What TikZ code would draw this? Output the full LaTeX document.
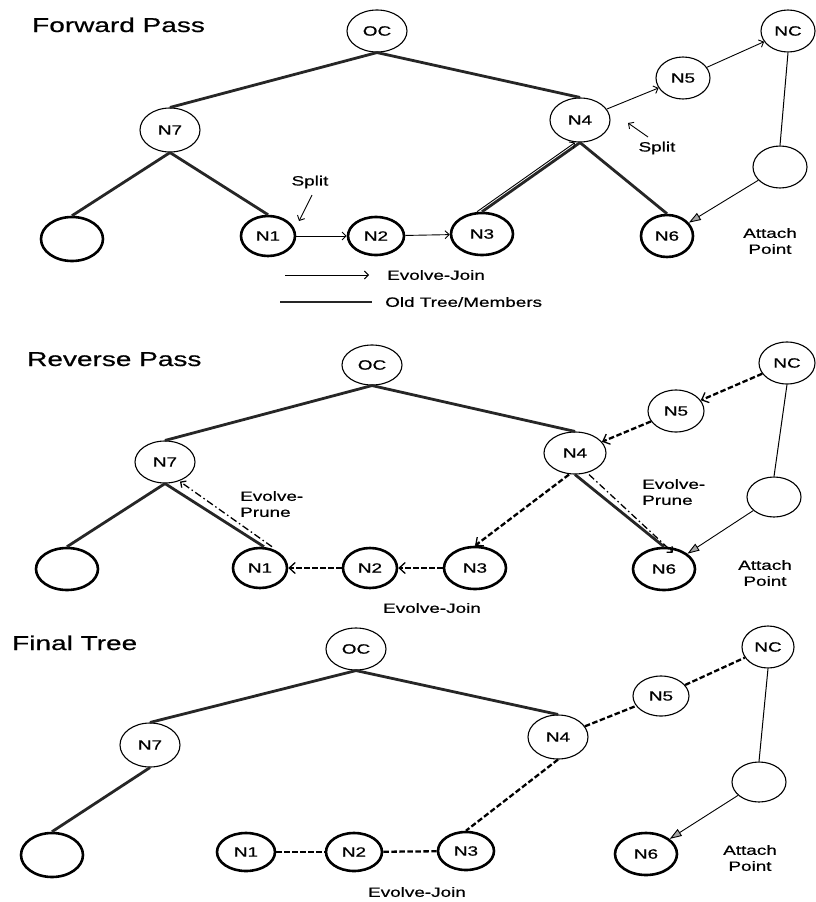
\documentclass[tikz,border=0pt]{standalone}
\usepackage{fontspec}
\setmainfont{Liberation Sans}[FakeStretch=1.4, FakeBold=0.6]
\usetikzlibrary{shapes.geometric,arrows.meta}

\tikzset{
  sz/.style 2 args={minimum width=#1pt, minimum height=#2pt},
  tnode/.style={ellipse, draw, line width=1.1pt, inner sep=0pt,
                font=\fontsize{13.5}{15}\selectfont},
  lnode/.style={tnode, line width=2.6pt},
  oldtree/.style={line width=2.8pt, draw=black!85},
  evjoin/.style={line width=0.9pt, -{Straight Barb[length=4pt,width=8pt]}},
  revjoin/.style={line width=2.3pt, dash pattern=on 5.5pt off 2.5pt,
                -{Straight Barb[length=6pt,width=11pt,line width=1.3pt]}},
  finjoin/.style={line width=2.3pt, dash pattern=on 5.5pt off 2.5pt},
  evprune/.style={line width=1.3pt, dash pattern=on 7pt off 3pt on 1.5pt off 3pt,
                -{Straight Barb[length=4pt,width=8pt]}},
  attacharrow/.style={line width=0.9pt,
                 -{Triangle[length=12pt,width=8pt,fill=black!35]}},
  thinline/.style={line width=1pt},
  lbl/.style={font=\fontsize{13.5}{16}\selectfont, inner sep=0pt},
  ttl/.style={font=\fontsize{20}{22}\selectfont, inner sep=0pt, anchor=base west},
}

\begin{document}
\begin{tikzpicture}[x=1pt, y=-1pt]
\useasboundingbox (0,0) rectangle (815,902);

% ---------------- Forward pass ----------------
\node[ttl] (tF) at (32,32) {Forward Pass};
\node[tnode, sz={60}{42}] (fOC) at (377,31) {OC};
\node[tnode, sz={60}{44}] (fN7) at (170,130) {N7};
\node[lnode, sz={62}{44}] (fL)  at (72,239) {};
\node[lnode, sz={54}{40}] (fN1) at (268,236) {N1};
\node[lnode, sz={56}{38}] (fN2) at (376,236) {N2};
\node[lnode, sz={62}{42}] (fN3) at (482,234) {N3};
\node[tnode, sz={60}{44}] (fN4) at (580,120) {N4};
\node[tnode, sz={54}{42}] (fN5) at (683,78) {N5};
\node[tnode, sz={54}{42}] (fNC) at (788,31) {NC};
\node[tnode, sz={54}{42}] (fE)  at (780,167) {};
\node[lnode, sz={52}{42}] (fN6) at (667,236) {N6};

\draw[oldtree] (fOC.south) -- (fN7.north);
\draw[oldtree] (fOC.south) -- (fN4.north);
\draw[oldtree] (fN7.south) -- (fL.north);
\draw[oldtree] (fN7.south) -- (fN1.north);
\draw[oldtree] (fN3.north) -- (fN4.south);
\draw[oldtree] (fN4.south) -- (fN6.north);

\draw[evjoin] (fN1) -- (fN2);
\draw[evjoin] (fN2) -- (fN3);
\draw[evjoin] ([xshift=-5pt]fN3.north) -- ([xshift=-5pt]fN4.south);
\draw[evjoin] (fN4) -- (fN5);
\draw[evjoin] (fN5) -- (fNC);
\draw[thinline] (fNC.south) -- (fE.north);
\draw[attacharrow] (fE) -- (fN6);

\node[lbl] (fS1) at (310,182) {Split};
\coordinate (fS1a) at (312,195);
\coordinate (fS1b) at (299,221);
\draw[evjoin] (fS1a) -- (fS1b);
\node[lbl] (fS2) at (657,148) {Split};
\coordinate (fS2a) at (648,137);
\coordinate (fS2b) at (628,123);
\draw[evjoin] (fS2a) -- (fS2b);
\node[lbl, align=center] (fAP) at (770,241) {Attach\\Point};

% legend
\coordinate (lgA1) at (285,275);
\coordinate (lgA2) at (369,275);
\draw[evjoin] (lgA1) -- (lgA2);
\node[lbl, anchor=west] (lgT1) at (387,275) {Evolve-Join};
\coordinate (lgB1) at (280,302);
\coordinate (lgB2) at (372,302);
\draw[oldtree] (lgB1) -- (lgB2);
\node[lbl, anchor=west] (lgT2) at (385,302) {Old Tree/Members};

% ---------------- Reverse pass ----------------
\node[ttl] (tR) at (27,366) {Reverse Pass};
\node[tnode, sz={60}{40}] (rOC) at (372,365) {OC};
\node[tnode, sz={60}{42}] (rN7) at (165,462) {N7};
\node[lnode, sz={62}{42}] (rL)  at (67,569) {};
\node[lnode, sz={54}{40}] (rN1) at (260,568) {N1};
\node[lnode, sz={54}{40}] (rN2) at (370,568) {N2};
\node[lnode, sz={62}{42}] (rN3) at (475,568) {N3};
\node[tnode, sz={62}{42}] (rN4) at (575,453) {N4};
\node[tnode, sz={56}{42}] (rN5) at (676,411) {N5};
\node[tnode, sz={56}{42}] (rNC) at (787,363) {NC};
\node[tnode, sz={54}{40}] (rE)  at (774,497) {};
\node[lnode, sz={62}{42}] (rN6) at (664,569) {N6};

\draw[oldtree] (rOC.south) -- (rN7.north);
\draw[oldtree] (rOC.south) -- (rN4.north);
\draw[oldtree] (rN7.south) -- (rL.north);
\draw[oldtree] (rN7.south) -- ([xshift=4pt]rN1.north);
\draw[oldtree] (rN4.south) -- (rN6.north);

\draw[revjoin] (rNC) -- (rN5);
\draw[revjoin] (rN5) -- (rN4);
\draw[revjoin] ([xshift=-6pt]rN4.south) -- (rN3.north);
\draw[revjoin] (rN3) -- (rN2);
\draw[revjoin] (rN2) -- (rN1);
\draw[evprune] ([xshift=12pt]rN1.north) -- ([xshift=15pt,yshift=2pt]rN7.south);
\draw[evprune] ([xshift=14pt]rN4.south) -- ([xshift=9pt,yshift=-6pt]rN6.north);
\draw[thinline] (rNC.south) -- (rE.north);
\draw[attacharrow] (rE) -- (rN6);

\node[lbl, anchor=west, align=left] (rP1) at (240,504) {Evolve-\\Prune};
\node[lbl, anchor=west, align=left] (rP2) at (642,492) {Evolve-\\Prune};
\node[lbl, align=center] (rAP) at (765,573) {Attach\\Point};
\node[lbl] (rJ) at (432,608) {Evolve-Join};

% ---------------- Final tree ----------------
\node[ttl] (tT) at (12,650) {Final Tree};
\node[tnode, sz={60}{42}] (tOC) at (356,649) {OC};
\node[tnode, sz={60}{44}] (tN7) at (150,745) {N7};
\node[lnode, sz={62}{44}] (tL)  at (52,855) {};
\node[lnode, sz={58}{38}] (tN1) at (246,852) {N1};
\node[lnode, sz={56}{38}] (tN2) at (354,852) {N2};
\node[lnode, sz={56}{38}] (tN3) at (466,851) {N3};
\node[tnode, sz={60}{44}] (tN4) at (558,737) {N4};
\node[tnode, sz={56}{40}] (tN5) at (661,696) {N5};
\node[tnode, sz={52}{42}] (tNC) at (768,647) {NC};
\node[tnode, sz={54}{40}] (tE)  at (759,782) {};
\node[lnode, sz={62}{42}] (tN6) at (646,854) {N6};

\draw[oldtree] (tOC.south) -- (tN7.north);
\draw[oldtree] (tOC.south) -- (tN4.north);
\draw[oldtree] (tN7.south) -- (tL.north);

\draw[finjoin] (tN4) -- (tN5);
\draw[finjoin] (tN5) -- (tNC);
\draw[finjoin] (tN4.south) -- (tN3.north);
\draw[finjoin] (tN1) -- (tN2);
\draw[finjoin] (tN2) -- (tN3);
\draw[thinline] (tNC.south) -- (tE.north);
\draw[attacharrow] (tE) -- (tN6);

\node[lbl, align=center] (tAP) at (750,858) {Attach\\Point};
\node[lbl] (tJ) at (417,892) {Evolve-Join};
\end{tikzpicture}
\end{document}
